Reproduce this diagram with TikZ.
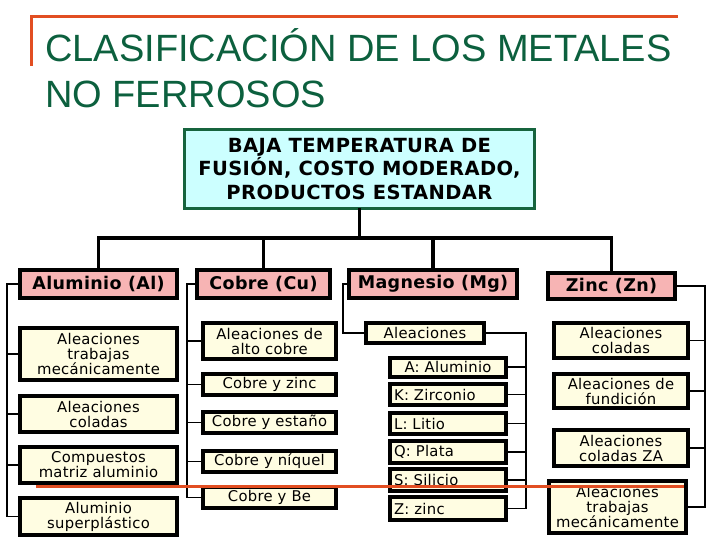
\documentclass[tikz,border=0pt]{standalone}
\usepackage{fontspec}
\setmainfont{DejaVu Sans}[LetterSpace=2]
\newfontfamily\titlefont{Liberation Sans}
\definecolor{titlegreen}{RGB}{12,96,62}
\definecolor{boxgreen}{RGB}{22,100,62}
\definecolor{topfill}{RGB}{204,255,255}
\definecolor{pinkfill}{RGB}{247,180,180}
\definecolor{creamfill}{RGB}{255,253,226}
\definecolor{orangeline}{RGB}{226,78,34}
\tikzset{
  topbox/.style={draw=boxgreen, line width=3pt, fill=topfill, align=center, inner sep=0pt, outer sep=0pt,
    font=\fontsize{19.5}{23.5}\selectfont\bfseries},
  metalbox/.style={draw=black, line width=4pt, fill=pinkfill, align=center, inner sep=0pt, outer sep=0pt,
    font=\fontsize{17.5}{20}\selectfont\bfseries},
  subbox/.style={draw=black, line width=4pt, fill=creamfill, align=center, inner sep=0pt, outer sep=0pt,
    font=\fontsize{14.8}{15}\selectfont},
  leftbox/.style={subbox, text width=108pt, align=left},
  treeline/.style={draw=black, line width=3.5pt},
  thinline/.style={draw=black, line width=1.1pt},
  orangestroke/.style={draw=orangeline, line width=3pt}
}
\begin{document}
\begin{tikzpicture}[x=1pt, y=-1pt]
\useasboundingbox (0,0) rectangle (720,540);
% title
\draw[orangestroke] (31,66) -- (31,17) -- (678,17);
\node[anchor=base west, inner sep=0pt, text=titlegreen, font=\titlefont\fontsize{38}{44}\selectfont] (t1) at (45,62) {CLASIFICACIÓN DE LOS METALES};
\node[anchor=base west, inner sep=0pt, text=titlegreen, font=\titlefont\fontsize{38}{44}\selectfont] (t2) at (45,108) {NO FERROSOS};
% top box
\node[topbox, minimum width=350pt, minimum height=79pt] (top) at (359.5,169) {BAJA TEMPERATURA DE\\FUSIÓN, COSTO MODERADO,\\PRODUCTOS ESTANDAR};
% metals
\node[metalbox, minimum width=157pt, minimum height=28pt] (al) at (98.5,284) {Aluminio (Al)};
\node[metalbox, minimum width=133pt, minimum height=28pt] (cu) at (263.5,284) {Cobre (Cu)};
\node[metalbox, minimum width=168pt, minimum height=28pt] (mg) at (433,284) {Magnesio (Mg)};
\node[metalbox, minimum width=127pt, minimum height=26.5pt] (zn) at (611.5,286) {Zinc (Zn)};
% tree
\coordinate (bar) at (359.5,238);
\draw[treeline] (top.south) -- (top.south |- bar);
\draw[treeline] (al.north) -- (al.north |- bar) -- (zn.north |- bar) -- (zn.north);
\draw[treeline] (cu.north |- bar) -- (cu.north);
\draw[treeline] (mg.north |- bar) -- (mg.north);
% aluminio children
\node[subbox, minimum width=157pt, minimum height=52pt] (a1) at (98.5,354) {Aleaciones\\trabajas\\mecánicamente};
\node[subbox, minimum width=157pt, minimum height=36pt] (a2) at (98.5,414) {Aleaciones\\coladas};
\node[subbox, minimum width=157pt, minimum height=36pt] (a3) at (98.5,465) {Compuestos\\matriz aluminio};
\node[subbox, minimum width=157pt, minimum height=37pt] (a4) at (98.5,516.5) {Aluminio\\superplástico};
% cobre children
\node[subbox, minimum width=133pt, minimum height=36pt] (c1) at (269.5,341) {Aleaciones de\\alto cobre};
\node[subbox, minimum width=133pt, minimum height=21pt] (c2) at (269.5,384.5) {Cobre y zinc};
\node[subbox, minimum width=133pt, minimum height=21pt] (c3) at (269.5,422.5) {Cobre y estaño};
\node[subbox, minimum width=133pt, minimum height=21pt] (c4) at (269.5,461.5) {Cobre y níquel};
\node[subbox, minimum width=133pt, minimum height=21pt] (c5) at (269.5,497.5) {Cobre y Be};
% magnesio children
\node[subbox, minimum width=118pt, minimum height=20pt] (mgal) at (425,333) {Aleaciones};
\node[subbox, minimum width=116pt, minimum height=19pt] (m1) at (448,367) {A: Aluminio};
\node[leftbox, minimum width=116pt, minimum height=21pt] (m2) at (448,394.5) {K: Zirconio};
\node[leftbox, minimum width=116pt, minimum height=21pt] (m3) at (448,423.5) {L: Litio};
\node[leftbox, minimum width=116pt, minimum height=22pt] (m4) at (448,452) {Q: Plata};
\node[leftbox, minimum width=116pt, minimum height=22pt] (m5) at (448,480) {S: Silicio};
\node[leftbox, minimum width=116pt, minimum height=23pt] (m6) at (448,508.5) {Z: zinc};
% zinc children
\node[subbox, minimum width=134pt, minimum height=35pt] (z1) at (621,340.5) {Aleaciones\\coladas};
\node[subbox, minimum width=134pt, minimum height=34pt] (z2) at (621,391) {Aleaciones de\\fundición};
\node[subbox, minimum width=134pt, minimum height=36pt] (z3) at (621,448) {Aleaciones\\coladas ZA};
\node[subbox, minimum width=137pt, minimum height=52pt] (z4) at (617.5,507) {Aleaciones\\trabajas\\mecánicamente};
% thin connectors
\coordinate (alx) at (7,0);
\coordinate (cux) at (187,0);
\coordinate (mgx) at (343,0);
\coordinate (mgr) at (526,0);
\coordinate (znx) at (705,0);
\draw[thinline] (al.west) -- (al.west -| alx) -- (a4.west -| alx) -- (a4.west);
\foreach \n in {a1,a2,a3} \draw[thinline] (\n.west -| alx) -- (\n.west);
\draw[thinline] (cu.west) -- (cu.west -| cux) -- (c5.west -| cux) -- (c5.west);
\foreach \n in {c1,c2,c3,c4} \draw[thinline] (\n.west -| cux) -- (\n.west);
\draw[thinline] (mg.west) -- (mg.west -| mgx) -- (mgal.west -| mgx) -- (mgal.west);
\draw[thinline] (mgal.east) -- (mgal.east -| mgr) -- (m6.east -| mgr) -- (m6.east);
\foreach \n in {m1,m2,m3,m4,m5} \draw[thinline] (\n.east -| mgr) -- (\n.east);
\draw[thinline] (zn.east) -- (zn.east -| znx) -- (z4.east -| znx) -- (z4.east);
\foreach \n in {z1,z2,z3} \draw[thinline] (\n.east -| znx) -- (\n.east);
% bottom orange rule
\draw[orangestroke] (36,486) -- (684,486);
\end{tikzpicture}
\end{document}
